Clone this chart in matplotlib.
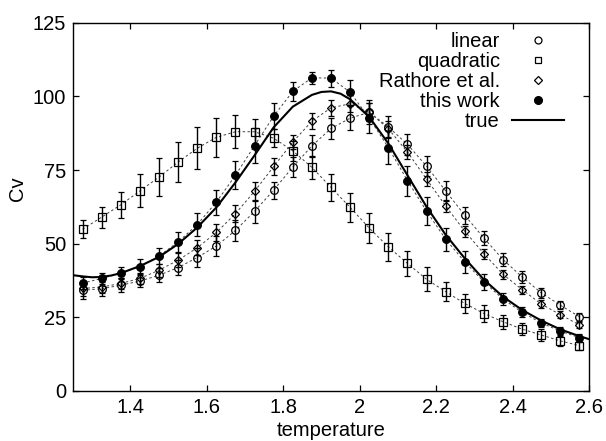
import matplotlib

matplotlib.use("Agg")
import matplotlib.pyplot as plt
from matplotlib.lines import Line2D

plt.rcParams["font.family"] = ["Liberation Sans", "DejaVu Sans"]
plt.rcParams["font.size"] = 14.5

temps = [1.275, 1.325, 1.375, 1.425, 1.475, 1.525, 1.575, 1.625, 1.675, 1.725,
         1.775, 1.825, 1.875, 1.925, 1.975, 2.025, 2.075, 2.125, 2.175, 2.225,
         2.275, 2.325, 2.375, 2.425, 2.475, 2.525, 2.575]

linear = [34.2, 34.7, 35.9, 37.3, 39.3, 41.9, 45.3, 49.2, 54.5, 61.0,
          68.2, 76.0, 83.2, 89.1, 92.6, 94.6, 89.6, 83.7, 76.3, 67.9,
          59.6, 51.9, 44.6, 38.7, 33.3, 29.1, 25.2]
linear_err = [3.1, 2.4, 2.3, 2.1, 2.4, 2.7, 3.1, 3.4, 3.7, 3.9,
              2.9, 3.5, 3.7, 3.7, 4.1, 4.0, 3.8, 3.6, 3.3, 3.3,
              2.9, 2.4, 2.1, 2.0, 1.6, 1.4, 1.4]

quadratic = [54.9, 59.0, 63.2, 67.9, 72.6, 77.7, 82.4, 86.1, 88.0, 88.0,
             85.8, 81.5, 75.9, 69.1, 62.3, 55.3, 48.9, 43.3, 37.9, 33.7,
             29.7, 26.3, 23.5, 21.0, 19.0, 17.0, 15.4]
quadratic_err = [3.0, 3.6, 4.5, 5.6, 6.4, 6.9, 7.1, 6.7, 5.6, 4.3,
                 3.1, 3.4, 3.8, 4.6, 4.9, 5.1, 4.8, 4.3, 4.1, 3.3,
                 3.2, 2.8, 2.3, 2.1, 2.1, 1.7, 1.6]

rathore = [34.8, 35.3, 36.5, 38.2, 41.0, 44.4, 48.6, 53.8, 60.2, 67.8,
           76.2, 84.5, 91.6, 96.1, 97.5, 94.6, 89.0, 81.1, 71.9, 62.8,
           54.2, 46.6, 39.6, 34.4, 29.5, 25.9, 22.4]
rathore_err = [2.5, 2.2, 2.0, 2.0, 2.2, 2.4, 2.6, 2.8, 3.0, 3.2,
               3.0, 2.3, 2.8, 2.6, 2.8, 3.0, 2.8, 2.5, 2.3, 2.1,
               1.8, 1.7, 1.6, 1.4, 1.4, 1.1, 1.1]

this_work = [36.6, 38.2, 40.0, 42.2, 45.8, 50.6, 56.5, 64.1, 73.2, 83.3,
             93.3, 101.7, 106.3, 106.2, 101.4, 92.6, 82.6, 71.4, 61.0, 51.5,
             43.8, 37.0, 31.2, 26.7, 23.1, 20.3, 18.1]
this_work_err = [2.0, 1.8, 2.0, 2.5, 2.8, 3.4, 3.9, 4.2, 4.7, 5.9,
                 4.3, 3.2, 2.1, 2.9, 4.2, 5.2, 5.6, 5.1, 4.7, 3.9,
                 3.7, 2.7, 2.1, 1.7, 1.5, 1.4, 1.4]

true_temps = [1.25, 1.275, 1.3, 1.325, 1.35, 1.375, 1.425, 1.475, 1.525, 1.575,
              1.625, 1.675, 1.725, 1.775, 1.825, 1.875, 1.9, 1.925, 1.95, 1.975,
              2.025, 2.075, 2.125, 2.175, 2.225, 2.275, 2.325, 2.375, 2.425,
              2.475, 2.525, 2.575, 2.6]
true_cv = [39.3, 38.9, 38.6, 38.7, 39.2, 40.0, 42.4, 45.5, 49.9, 55.5,
           62.3, 70.8, 80.0, 89.5, 96.5, 100.5, 101.5, 101.7, 100.9, 99.0,
           93.0, 84.0, 73.2, 62.5, 53.0, 45.0, 37.8, 32.0, 27.5,
           23.9, 20.9, 18.6, 17.6]

x_ticks = [1.4, 1.6, 1.8, 2.0, 2.2, 2.4, 2.6]
x_tick_labels = ["1.4", "1.6", "1.8", "2", "2.2", "2.4", "2.6"]
y_ticks = [0, 25, 50, 75, 100, 125]

fig = plt.figure(figsize=(6.06, 4.41), dpi=100)
ax = fig.add_axes([0.1205, 0.1134, 0.8515, 0.8351])

series = [
    (linear, linear_err, "o", 5.5, "none"),
    (quadratic, quadratic_err, "s", 5.5, "none"),
    (rathore, rathore_err, "D", 4.0, "none"),
    (this_work, this_work_err, "o", 5.5, "black"),
]
for values, errors, marker, size, face in series:
    ax.plot(temps, values, color="0.25", lw=0.7, ls=(0, (2.5, 2.5)), zorder=1)
    ax.errorbar(temps, values, yerr=errors, fmt=marker, ms=size, mfc=face,
                mec="black", mew=0.9, ecolor="black", elinewidth=1.0,
                capsize=2.0, capthick=1.0, zorder=2)

ax.plot(true_temps, true_cv, color="black", lw=1.5, zorder=3)

ax.set_xlim(1.25, 2.6)
ax.set_ylim(0, 125)
ax.set_xticks(x_ticks)
ax.set_xticklabels(x_tick_labels)
ax.set_yticks(y_ticks)
ax.tick_params(direction="in", length=4.5, width=0.9, top=True, right=True, pad=5)
for spine in ax.spines.values():
    spine.set_linewidth(1.0)

ax.set_xlabel("temperature", labelpad=3)
ax.set_ylabel("Cv")
ax.yaxis.set_label_coords(-0.09, 0.55)

handles = [
    Line2D([], [], ls="none", marker="o", ms=5, mfc="none", mec="black", mew=0.9),
    Line2D([], [], ls="none", marker="s", ms=5, mfc="none", mec="black", mew=0.9),
    Line2D([], [], ls="none", marker="D", ms=4, mfc="none", mec="black", mew=0.9),
    Line2D([], [], ls="none", marker="o", ms=5.5, mfc="black", mec="black"),
    Line2D([], [], color="black", lw=1.5),
]
labels = ["linear", "quadratic", "Rathore et al.", "this work", "true"]
ax.legend(handles, labels, loc="upper right", bbox_to_anchor=(0.952, 0.975),
          markerfirst=False, frameon=False, borderpad=0, borderaxespad=0,
          handlelength=2.6, handletextpad=0.6, labelspacing=0.05)

fig.savefig("out.png", dpi=100)
